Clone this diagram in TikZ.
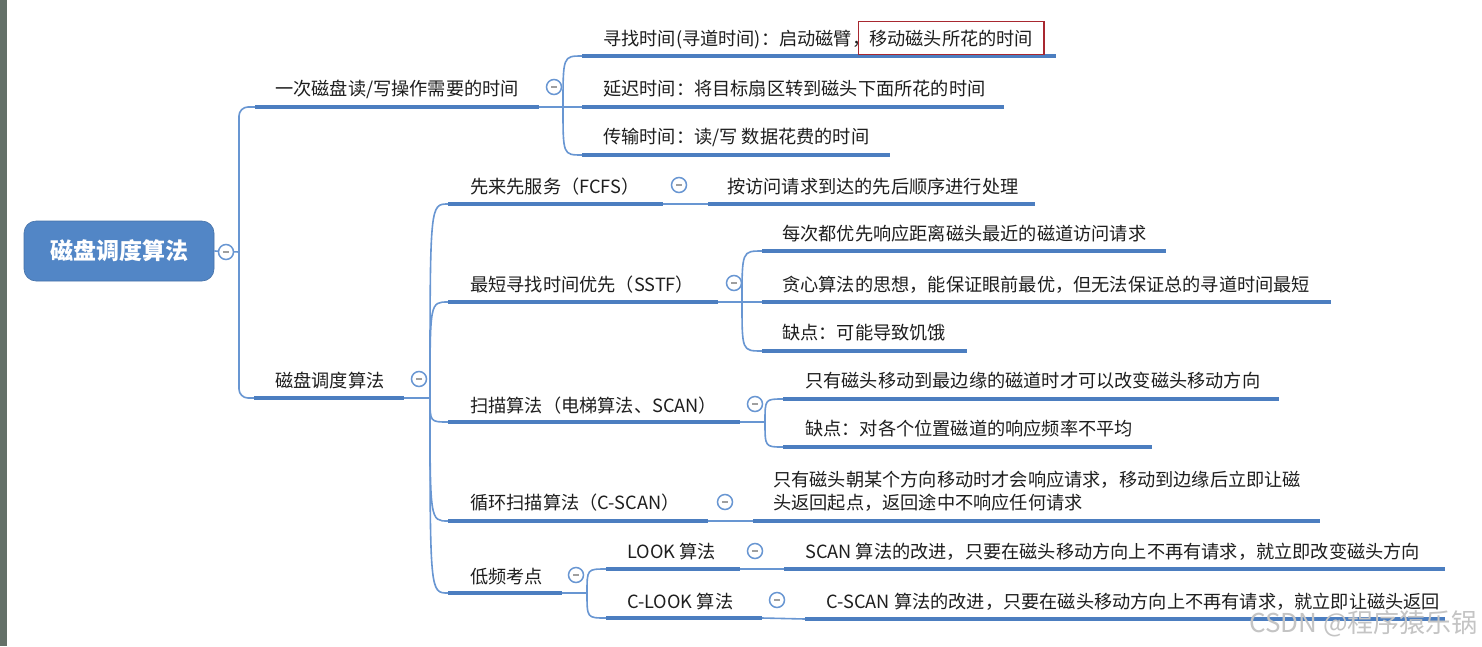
\documentclass[tikz,border=0pt]{standalone}
\usepackage{fontspec}
\newfontfamily\cjk{Noto Sans CJK SC}
\definecolor{ulc}{RGB}{76,126,192}
\definecolor{connc}{RGB}{104,150,210}
\definecolor{rootc}{RGB}{82,134,198}
\definecolor{txtc}{RGB}{30,30,30}
\definecolor{redc}{RGB}{168,40,48}
\definecolor{wmc}{RGB}{196,196,196}
\definecolor{stripc}{RGB}{100,112,104}
\tikzset{
  txt/.style={font=\cjk\fontsize{18.2}{23}\selectfont, text=txtc, inner sep=0pt, anchor=base west},
  uline/.style={draw=ulc, line width=4.5pt, line cap=butt},
  conn/.style={draw=connc, line width=1.6pt},
  tog/.style={circle, draw=connc, line width=1.5pt, fill=white, minimum size=15pt, inner sep=0pt,
    path picture={\draw[gray!75, line width=1.3pt] ([xshift=-3pt]path picture bounding box.center) -- ([xshift=3pt]path picture bounding box.center);}},
  rootbox/.style={rectangle, rounded corners=12pt, fill=rootc, draw=rootc!85!black, line width=0.6pt,
    minimum width=190pt, minimum height=60pt, text=white, font=\cjk\bfseries\fontsize{23}{28}\selectfont},
  redbox/.style={draw=redc, line width=1.5pt, inner xsep=11pt, inner ysep=8pt, anchor=base west,
    font=\cjk\fontsize{18.2}{23}\selectfont, text=txtc},
  wmark/.style={font=\cjk\fontsize{26}{30}\selectfont, text=wmc, inner sep=0pt, anchor=east},
}
\begin{document}
\begin{tikzpicture}[x=1pt,y=-1pt]
\useasboundingbox (0,0) rectangle (1482,646);
\fill[white] (0,0) rectangle (1482,646);
\fill[stripc] (0,0) rectangle (7,646);

% ---------- coordinates ----------
\coordinate (j0) at (239,252);
\coordinate (As) at (255,107);  \coordinate (Ae) at (539,107);  \coordinate (Aj) at (563,107);
\coordinate (A1s) at (582,56);  \coordinate (A1e) at (1056,56);
\coordinate (A2s) at (582,107); \coordinate (A2e) at (1004,107);
\coordinate (A3s) at (582,155); \coordinate (A3e) at (890,155);
\coordinate (Bs) at (254,398);  \coordinate (Be) at (404,398);  \coordinate (Bj) at (430,398);
\coordinate (B1s) at (448,204); \coordinate (B1e) at (663,204);
\coordinate (B1cs) at (708,204); \coordinate (B1ce) at (1035,204);
\coordinate (B2s) at (448,302); \coordinate (B2e) at (718,302); \coordinate (B2j) at (742,302);
\coordinate (B21s) at (762,251); \coordinate (B21e) at (1166,251);
\coordinate (B22s) at (762,302); \coordinate (B22e) at (1331,302);
\coordinate (B23s) at (762,351); \coordinate (B23e) at (967,351);
\coordinate (B3s) at (448,422); \coordinate (B3e) at (740,422); \coordinate (B3j) at (765,422);
\coordinate (B31s) at (783,399); \coordinate (B31e) at (1279,399);
\coordinate (B32s) at (783,447); \coordinate (B32e) at (1152,447);
\coordinate (B4s) at (448,521); \coordinate (B4e) at (708,521);
\coordinate (B4cs) at (753,521); \coordinate (B4ce) at (1320,521);
\coordinate (B5s) at (448,593); \coordinate (B5e) at (562,593); \coordinate (B5j) at (587,593);
\coordinate (Ls) at (606,569); \coordinate (Le) at (740,569);
\coordinate (Lcs) at (784,569); \coordinate (Lce) at (1445,569);
\coordinate (CLs) at (606,618); \coordinate (CLe) at (762,618);
\coordinate (CLcs) at (805,619); \coordinate (CLce) at (1445,619);

% ---------- root ----------
\node[rootbox] (root) at (119,251) {磁盘调度算法};

% ---------- connectors ----------
\draw[conn] (root.east) -- (j0);
\draw[conn, rounded corners=9pt] (j0) |- (As);
\draw[conn, rounded corners=9pt] (j0) |- (Bs);

\draw[conn] (Ae) -- (Aj);
\draw[conn] (Aj) .. controls (Aj |- A1s) .. (A1s);
\draw[conn] (Aj) -- (A2s);
\draw[conn] (Aj) .. controls (Aj |- A3s) .. (A3s);

\draw[conn] (Be) -- (Bj);
\foreach \c in {B1s,B2s,B3s,B4s,B5s}
  \draw[conn] (Bj) .. controls (Bj |- \c) .. (\c);

\draw[conn] (B1e) -- (B1cs);
\draw[conn] (B2e) -- (B2j);
\draw[conn] (B2j) .. controls (B2j |- B21s) .. (B21s);
\draw[conn] (B2j) -- (B22s);
\draw[conn] (B2j) .. controls (B2j |- B23s) .. (B23s);
\draw[conn] (B3e) -- (B3j);
\draw[conn] (B3j) .. controls (B3j |- B31s) .. (B31s);
\draw[conn] (B3j) .. controls (B3j |- B32s) .. (B32s);
\draw[conn] (B4e) -- (B4cs);
\draw[conn] (B5e) -- (B5j);
\draw[conn] (B5j) .. controls (B5j |- Ls) .. (Ls);
\draw[conn] (B5j) .. controls (B5j |- CLs) .. (CLs);
\draw[conn] (Le) -- (Lcs);
\draw[conn] (CLe) -- (CLcs);

% ---------- underlines ----------
\foreach \a/\b in {As/Ae, A1s/A1e, A2s/A2e, A3s/A3e, Bs/Be, B1s/B1e, B1cs/B1ce,
  B2s/B2e, B21s/B21e, B22s/B22e, B23s/B23e, B3s/B3e, B31s/B31e, B32s/B32e,
  B4s/B4e, B4cs/B4ce, B5s/B5e, Ls/Le, Lcs/Lce, CLs/CLe, CLcs/CLce}
  \draw[uline] (\a) -- (\b);

% ---------- texts ----------
\node[txt] (At) at (275,95) {一次磁盘读/写操作需要的时间};
\node[txt] (A1t) at (603,45) {寻找时间(寻道时间)：启动磁臂，};
\node[redbox] (A1r) at ([xshift=-13pt]A1t.base east) {移动磁头所花的时间};
\node[txt] (A2t) at (603,95) {延迟时间：将目标扇区转到磁头下面所花的时间};
\node[txt] (A3t) at (603,143) {传输时间：读/写 数据花费的时间};

\node[txt] (Bt) at (275,387) {磁盘调度算法};
\node[txt] (B1t) at (470,193) {先来先服务（FCFS）};
\node[txt] (B1ct) at (727,193) {按访问请求到达的先后顺序进行处理};
\node[txt] (B2t) at (470,291) {最短寻找时间优先（SSTF）};
\node[txt] (B21t) at (782,240) {每次都优先响应距离磁头最近的磁道访问请求};
\node[txt] (B22t) at (782,291) {贪心算法的思想，能保证眼前最优，但无法保证总的寻道时间最短};
\node[txt] (B23t) at (782,339) {缺点：可能导致饥饿};
\node[txt] (B3t) at (470,412) {扫描算法（电梯算法、SCAN）};
\node[txt] (B31t) at (805,387) {只有磁头移动到最边缘的磁道时才可以改变磁头移动方向};
\node[txt] (B32t) at (805,435) {缺点：对各个位置磁道的响应频率不平均};
\node[txt] (B4t) at (470,509) {循环扫描算法（C-SCAN）};
\node[txt, anchor=north west, align=left] (B4ct) at (773,471)
  {只有磁头朝某个方向移动时才会响应请求，移动到边缘后立即让磁\\头返回起点，返回途中不响应任何请求};
\node[txt] (B5t) at (470,583) {低频考点};
\node[txt] (Lt) at (627,558) {LOOK 算法};
\node[txt] (Lct) at (805,558) {SCAN 算法的改进，只要在磁头移动方向上不再有请求，就立即改变磁头方向};
\node[txt] (CLt) at (627,608) {C-LOOK 算法};
\node[txt] (CLct) at (826,608) {C-SCAN 算法的改进，只要在磁头移动方向上不再有请求，就立即让磁头返回};

% ---------- toggles ----------
\node[tog] (rootT) at (226,252) {};
\node[tog] (AT) at (554,87) {};
\node[tog] (BT) at (419,379) {};
\node[tog] (B1T) at (679,185) {};
\node[tog] (B2T) at (734,283) {};
\node[tog] (B3T) at (755,404) {};
\node[tog] (B4T) at (725,502) {};
\node[tog] (B5T) at (576,575) {};
\node[tog] (LT) at (755,551) {};
\node[tog] (CLT) at (777,600) {};

% ---------- watermark ----------
\node[wmark] (wm) at (1478,624) {CSDN @程序猿乐锅};
\end{tikzpicture}
\end{document}
